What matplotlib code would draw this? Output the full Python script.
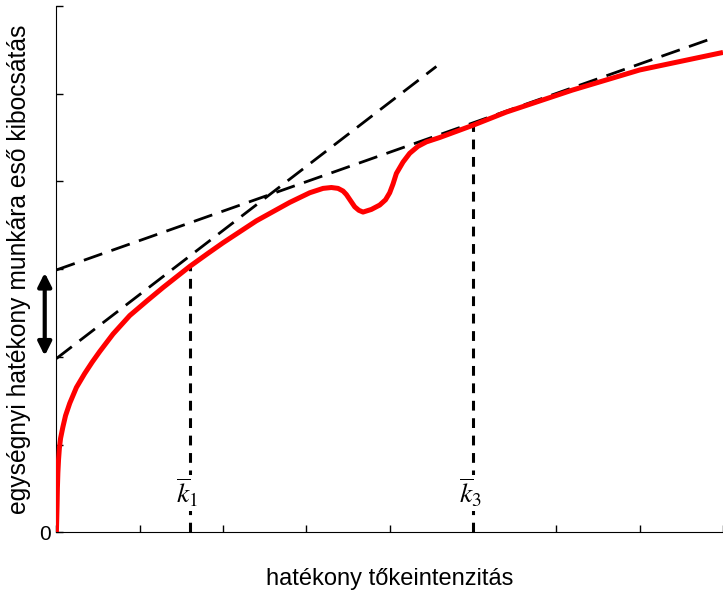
import numpy as np
import matplotlib.pyplot as plt

plt.rcParams['font.family'] = ['Liberation Sans', 'DejaVu Sans']
plt.rcParams['mathtext.fontset'] = 'stix'

# output curve
curve_x = [0.0, 0.008, 0.012, 0.018, 0.026, 0.036, 0.05, 0.078, 0.11, 0.16, 0.24,
           0.34, 0.43, 0.52, 0.68, 0.88, 1.09, 1.28, 1.48, 1.6, 1.82, 2.0, 2.4, 2.8,
           3.04, 3.2, 3.3, 3.38, 3.44, 3.48, 3.53, 3.58, 3.63, 3.68, 3.78, 3.88, 3.95,
           4.0, 4.04, 4.08, 4.16, 4.24, 4.34, 4.44, 4.6, 5.0, 5.4, 6.19, 7.0, 8.0]
curve_y = [0.0, 0.3, 0.5, 0.68, 0.83, 0.96, 1.07, 1.2, 1.33, 1.47, 1.65,
           1.81, 1.94, 2.06, 2.26, 2.47, 2.64, 2.79, 2.94, 3.03, 3.18, 3.3, 3.55, 3.76,
           3.87, 3.92, 3.93, 3.92, 3.89, 3.85, 3.78, 3.71, 3.67, 3.65, 3.68, 3.73, 3.79,
           3.87, 3.97, 4.09, 4.22, 4.32, 4.4, 4.45, 4.5, 4.64, 4.79, 5.04, 5.27, 5.47]

# tangent lines
tan1_x = [0.0, 4.56]
tan1_y = [1.98, 5.31]
tan2_x = [0.0, 7.9]
tan2_y = [2.99, 5.64]

k_vals = [1.6, 5.0]
k_tops = [3.06, 4.64]
k_labels = [r'$\overline{k}_1$', r'$\overline{k}_3$']

fig = plt.figure(figsize=(7.23, 5.94), dpi=100)
ax = fig.add_axes([0.078, 0.104, 0.922, 0.886])

ax.plot(tan1_x, tan1_y, color='black', lw=2.0, dashes=(7, 3.5))
ax.plot(tan2_x, tan2_y, color='black', lw=2.0, dashes=(7, 3.5))
for kx, ky in zip(k_vals, k_tops):
    ax.plot([kx, kx], [0, ky], color='black', lw=2.2, dashes=(3.2, 2.5))
ax.plot(curve_x, curve_y, color='#ff0000', lw=3.6, solid_capstyle='butt',
        solid_joinstyle='round', zorder=5)

for kx, lab in zip(k_vals, k_labels):
    ax.text(kx - 0.03, 0.45, lab, fontsize=20, ha='center', va='center',
            bbox=dict(facecolor='white', edgecolor='none', pad=1), zorder=6)

ax.annotate('', xy=(-0.14, tan2_y[0]), xytext=(-0.14, tan1_y[0]),
            arrowprops=dict(arrowstyle='<|-|>', color='black', lw=3, mutation_scale=20),
            annotation_clip=False)

ax.set_xlim(0, 8)
ax.set_ylim(0, 6)
ax.set_xticks(range(9))
ax.set_xticklabels([])
ax.set_yticks(range(7))
ax.set_yticklabels(['0'] + [''] * 6, fontsize=15)
ax.tick_params(direction='in', length=5, width=1, pad=4)
ax.spines['top'].set_visible(False)
ax.spines['right'].set_visible(False)

ax.set_xlabel('hatékony tőkeintenzitás', fontsize=17, labelpad=22)
ax.set_ylabel('egységnyi hatékony munkára eső kibocsátás', fontsize=17.7, labelpad=6)

fig.savefig('out.png', dpi=100)
